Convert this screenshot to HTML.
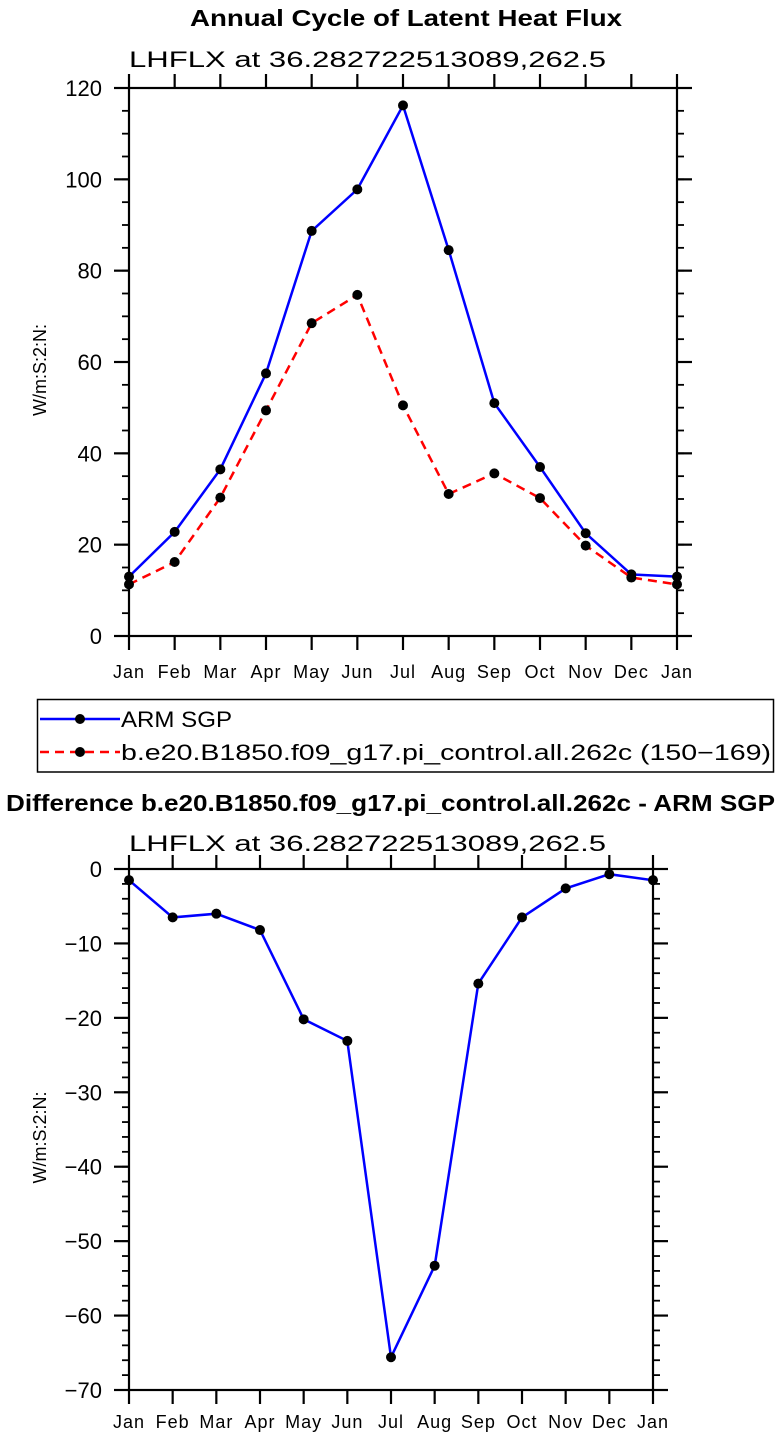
<!DOCTYPE html>
<html><head><meta charset="utf-8">
<style>
html,body{margin:0;padding:0;background:#fff;}
svg{display:block;font-family:"Liberation Sans",sans-serif;}
</style></head>
<body>
<svg id="chart" width="777" height="1439" viewBox="0 0 777 1439">
<text x="190" y="26" font-size="23" font-weight="bold" textLength="432" lengthAdjust="spacingAndGlyphs">Annual Cycle of Latent Heat Flux</text>
<text x="129" y="67" font-size="22" textLength="477" lengthAdjust="spacingAndGlyphs">LHFLX at 36.282722513089,262.5</text>
<g id="top"></g>
<g>
<rect x="37.5" y="699.5" width="736" height="72.5" fill="none" stroke="#000" stroke-width="1.5"/>
<g>
<line x1="40" y1="719" x2="120" y2="719" stroke="#0000ff" stroke-width="2.5"/>
<circle cx="80" cy="719" r="5" fill="#000"/>
<text x="121" y="727" font-size="22" textLength="111" lengthAdjust="spacingAndGlyphs">ARM SGP</text></g>
<g>
<line x1="40" y1="752" x2="120" y2="752" stroke="#ff0000" stroke-width="2.5" stroke-dasharray="9,6"/>
<circle cx="80" cy="752" r="5" fill="#000"/>
<text x="121" y="760" font-size="22" textLength="650" lengthAdjust="spacingAndGlyphs">b.e20.B1850.f09_g17.pi_control.all.262c (150−169)</text></g>
</g>
<text x="6" y="811" font-size="23" font-weight="bold" textLength="769" lengthAdjust="spacingAndGlyphs">Difference b.e20.B1850.f09_g17.pi_control.all.262c - ARM SGP</text>
<text x="129" y="851" font-size="22" textLength="477" lengthAdjust="spacingAndGlyphs">LHFLX at 36.282722513089,262.5</text>
<g id="bot"></g>
</svg>
<script>
const months = ["Jan","Feb","Mar","Apr","May","Jun","Jul","Aug","Sep","Oct","Nov","Dec","Jan"];
const armSgp = [13, 22.8, 36.5, 57.5, 88.7, 97.8, 116.2, 84.5, 51, 37, 22.5, 13.5, 13];
const model = [11.3, 16.2, 30.3, 49.4, 68.5, 74.7, 50.5, 31.1, 35.6, 30.2, 19.8, 12.8, 11.3];
const diff = [-1.5, -6.5, -6.0, -8.2, -20.2, -23.1, -65.6, -53.3, -15.4, -6.5, -2.6, -0.7, -1.5];
const topTicks = [0, 20, 40, 60, 80, 100, 120];
const botTicks = [0, -10, -20, -30, -40, -50, -60, -70];

const NS = "http://www.w3.org/2000/svg";
function mk(parent, tag, attrs, text) {
  const e = document.createElementNS(NS, tag);
  for (const k in attrs) e.setAttribute(k, attrs[k]);
  if (text !== undefined) e.textContent = text;
  parent.appendChild(e);
  return e;
}

function drawPlot(g, cfg) {
  const {x0, x1, y0, y1, vmin, vmax, ticks, minorStep, series, labelY, ylabel} = cfg;
  const xs = i => x0 + (x1 - x0) * i / (months.length - 1);
  const ys = v => y1 - (v - vmin) / (vmax - vmin) * (y1 - y0);
  const fr = mk(g, "rect", {x: x0, y: y0, width: x1 - x0, height: y1 - y0, fill: "none", stroke: "#000", "stroke-width": 2.2});
  
  
  for (let v = vmin; v <= vmax + 1e-9; v += minorStep) {
    const y = ys(v);
    mk(g, "line", {x1: x0 - 7, y1: y, x2: x0, y2: y, stroke: "#000", "stroke-width": 1.8});
    mk(g, "line", {x1: x1, y1: y, x2: x1 + 7, y2: y, stroke: "#000", "stroke-width": 1.8});
  }
  ticks.forEach(t => {
    const y = ys(t);
    mk(g, "line", {x1: x0 - 15, y1: y, x2: x0, y2: y, stroke: "#000", "stroke-width": 2.2});
    mk(g, "line", {x1: x1, y1: y, x2: x1 + 15, y2: y, stroke: "#000", "stroke-width": 2.2});
    const lab = mk(g, "text", {x: x0 - 27, y: y + 8, "text-anchor": "end", "font-size": 22}, String(t).replace("-", "\u2212"));
    
    
  });
  months.forEach((m, i) => {
    const x = xs(i);
    mk(g, "line", {x1: x, y1: y1, x2: x, y2: y1 + 14, stroke: "#000", "stroke-width": 2.2});
    mk(g, "line", {x1: x, y1: y0 - 14, x2: x, y2: y0, stroke: "#000", "stroke-width": 2.2});
    const lab = mk(g, "text", {x: x, y: labelY, "text-anchor": "middle", "font-size": 18, "letter-spacing": 1}, m);
    
    
  });
  const yt = mk(g, "text", {x: 0, y: 0, "text-anchor": "middle", "font-size": 18, transform: `translate(46,${(y0 + y1) / 2 + 8}) rotate(-90)`}, ylabel);
  
  
  series.forEach(s => {
    const pts = s.values.map((v, i) => xs(i).toFixed(1) + "," + ys(v).toFixed(1)).join(" ");
    const pl = mk(g, "polyline", {points: pts, fill: "none", stroke: s.color, "stroke-width": 2.5, "stroke-dasharray": s.dash || "none"});
    
    
    s.values.forEach((v, i) => {
      const c = mk(g, "circle", {cx: xs(i), cy: ys(v), r: 5, fill: "#000"});
      
      
    });
  });
}

drawPlot(document.getElementById("top"), {
  x0: 129, x1: 677, y0: 88, y1: 636, vmin: 0, vmax: 120, ticks: topTicks, minorStep: 5,
  labelY: 678, ylabel: "W/m:S:2:N:",
  series: [{name: "arm-sgp", values: armSgp, color: "#0000ff"},
           {name: "model", values: model, color: "#ff0000", dash: "9,6"}]
});
drawPlot(document.getElementById("bot"), {
  x0: 129, x1: 653, y0: 869, y1: 1390, vmin: -70, vmax: 0, ticks: botTicks, minorStep: 2,
  labelY: 1428, ylabel: "W/m:S:2:N:",
  series: [{name: "difference", values: diff, color: "#0000ff"}]
});
</script>
</body></html>
